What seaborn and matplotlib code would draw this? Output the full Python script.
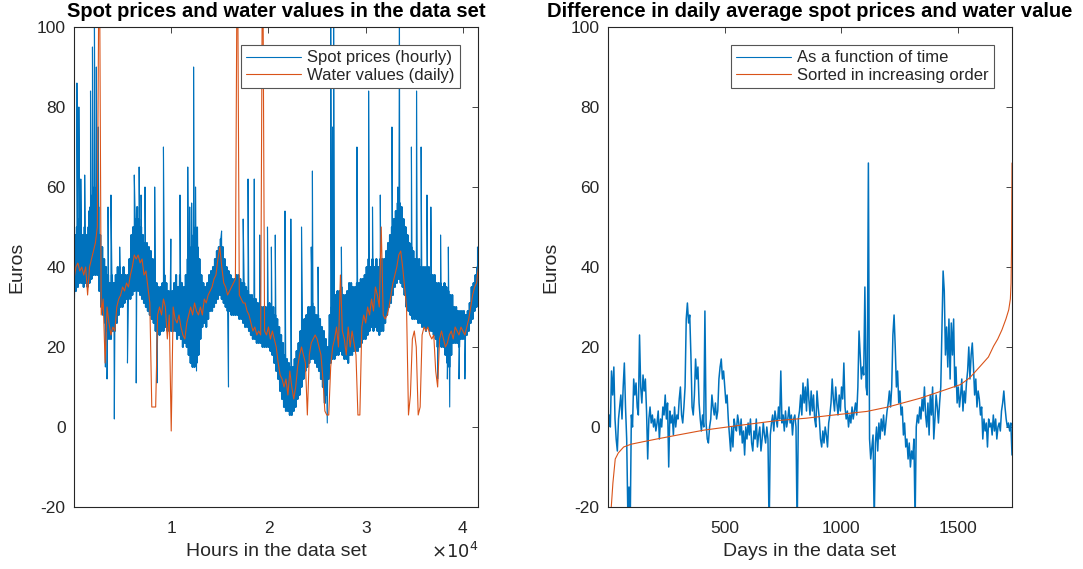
import numpy as np
import pandas as pd
import matplotlib
matplotlib.use("Agg")
import matplotlib.pyplot as plt
from matplotlib.ticker import FuncFormatter
from matplotlib.lines import Line2D
import seaborn as sns

# ---------------- data ----------------
# Left panel: hourly spot prices. The dense hourly trace is read as a band:
# lower and upper edge every 200 hours, plus the isolated spikes.
band_step_hours = 200
spot_band_low = [
    32, 34, 35, 36, 36, 35, 36, 35, 36, 37, 38, 38, 38, 34, 30, 28, 26, 24, 22, 22,
    24, 24, 26, 28, 30, 30, 31, 32, 32, 32, 33, 34, 34, 34, 33, 32, 31, 30, 29, 28,
    27, 26, 24, 24, 23, 24, 24, 25, 24, 24, 24, 24, 24, 22, 23, 22, 20, 21, 20, 18,
    16, 15, 15, 16, 18, 22, 25, 26, 25, 27, 29, 29, 30, 31, 32, 33, 32, 31, 30, 29,
    29, 28, 28, 28, 28, 27, 27, 26, 25, 25, 24, 23, 22, 22, 21, 21, 21, 20, 20, 20,
    20, 19, 18, 16, 14, 12, 9, 7, 5, 4, 4, 3, 3, 4, 5, 7, 8, 10, 12, 14,
    15, 16, 17, 17, 16, 15, 14, 12, 10, 6, 8, 12, 16, 17, 17, 18, 18, 19, 18, 17,
    17, 16, 18, 18, 19, 19, 19, 20, 21, 22, 22, 23, 24, 25, 24, 25, 24, 23, 24, 24,
    26, 28, 30, 31, 33, 35, 36, 37, 36, 35, 33, 30, 29, 28, 27, 27, 27, 26, 26, 25,
    25, 24, 25, 24, 24, 23, 22, 20, 22, 20, 20, 18, 16, 15, 18, 21, 21, 21, 20, 22,
    22, 22, 23, 24, 26, 27, 29, 30, 32,
]
spot_band_high = [
    48, 50, 52, 50, 48, 50, 48, 50, 55, 58, 60, 58, 55, 48, 45, 42, 40, 38, 36, 38,
    36, 38, 40, 40, 38, 40, 38, 38, 42, 48, 50, 52, 55, 52, 50, 48, 46, 46, 45, 44,
    42, 40, 36, 35, 35, 36, 38, 36, 34, 34, 34, 36, 38, 35, 38, 36, 35, 38, 42, 45,
    45, 48, 50, 45, 42, 38, 36, 35, 36, 38, 39, 40, 42, 44, 45, 47, 45, 42, 40, 39,
    38, 37, 37, 38, 38, 37, 36, 36, 35, 34, 33, 33, 32, 32, 31, 31, 30, 30, 30, 30,
    31, 30, 30, 28, 27, 25, 23, 21, 18, 17, 16, 15, 15, 17, 19, 21, 24, 26, 27, 28,
    30, 30, 31, 30, 28, 28, 27, 25, 24, 22, 20, 28, 30, 32, 33, 34, 34, 35, 33, 33,
    34, 36, 36, 35, 35, 36, 36, 37, 37, 38, 40, 42, 40, 42, 40, 42, 40, 42, 42, 42,
    44, 46, 48, 50, 52, 54, 56, 56, 55, 52, 50, 48, 46, 45, 44, 42, 42, 42, 40, 40,
    40, 40, 40, 38, 38, 38, 36, 36, 36, 35, 36, 35, 34, 33, 33, 30, 30, 29, 29, 29,
    29, 28, 29, 31, 35, 36, 38, 40, 42,
]
spike_hours = [300, 500, 700, 1100, 1500, 1700, 1900, 2100, 2300, 2500, 3230, 3400,
               3500, 3800, 4150, 4700, 5500, 6200, 6400, 6700, 6900, 7300, 8300, 8530,
               9200, 9960, 10900, 11700, 11900, 12100, 12300, 12500, 12600, 12700,
               15180, 15890, 17400, 17900, 18540, 19100, 19900, 20300, 20700, 21700,
               22300, 23400, 24400, 24520, 25100, 26050, 26400, 26600, 26700, 27500,
               29100, 30300, 30700, 31500, 32700, 33300, 33470, 34700, 35230, 35700,
               36300, 36700, 37400, 37700, 38400, 38500, 38640, 39600, 40200, 41500]
spike_prices = [86, 80, 62, 63, 54, 84, 95, 105, 90, 75, 15, 12,
                55, 58, 2, 45, 16, 63, 11, 65, 58, 60, 60, 11,
                70, 47, 58, 65, 55, 56, 90, 60, 14, 50,
                49, 10, 52, 62, 62, 48, 50, 45, 48, 54,
                52, 50, 45, 64, 40, 1, 105, 75, 105, 45,
                70, 84, 55, 58, 75, 60, 105, 70, 84, 70,
                58, 55, 12, 48, 12, 45, 5, 12, 12, 45]

# Left panel: daily water values, sampled every 200 hours
water_step_hours = 200
water_values = [
    37, 40, 41, 39, 40, 38, 40, 33, 40, 42, 44, 46, 50, 130, 28, 32, 16, 30, 26, 23,
    25, 24, 30, 32, 33, 35, 34, 36, 35, 38, 40, 43, 42, 43, 41, 42, 38, 39, 35, 31,
    5, 5, 5, 28, 30, 28, 32, 30, 22, 28, -1, 30, 27, 26, 28, 25, 23, 22, 26, 28,
    30, 28, 31, 29, 28, 30, 28, 32, 31, 33, 34, 35, 37, 38, 42, 45, 40, 36, 35, 33,
    34, 35, 36, 37, 130, 33, 32, 31, 31, 29, 28, 26, 24, 25, 23, 24, 23, 130, 24, 23,
    25, 22, 24, 22, 20, 16, 13, 12, 10, 12, 8, 14, 10, 7, 10, 15, 18, 20, 18, 16,
    3, 18, 21, 22, 23, 22, 20, 18, 12, 4, 3, 3, 15, 20, 22, 25, 20, 38, 24, 22,
    18, 25, 20, 24, 21, 18, 3, 3, 25, 28, 26, 30, 28, 32, 29, 35, 33, 30, 50, 28,
    27, 28, 30, 33, 36, 38, 40, 43, 44, 40, 35, 30, 3, 8, 22, 24, 20, 3, 5, 23,
    25, 24, 25, 23, 22, 23, 14, 10, 22, 24, 22, 20, 21, 23, 24, 22, 25, 24, 23, 25,
    24, 23, 25, 27, 30, 33, 35, 36, 40,
]

# Right panel: daily difference, sampled every 5 days
diff_step_days = 5
diff_values = [
    -1, 3, 0, 14, 8, 15, 2, -3, -6, 2, 5, 8, 2, 10, 16, 5, -3, -22, -15, -25,
    3, 0, 12, 8, 11, 5, 3, 23, 10, 6, 13, 9, 12, 4, -8, 2, 5, 1, 3, 0,
    2, -1, 1, 4, -3, 2, 0, 5, 3, 8, 2, 6, -10, 4, 1, 3, -2, 5, 0, 3,
    2, 7, 10, 3, 1, 5, 10, 27, 31, 26, 28, 18, 5, 3, 8, 17, 12, 15, 6, 2,
    -1, 3, 0, 29, 1, -3, -4, 0, 2, 8, 5, 3, 6, 2, 4, 12, 15, 17, 12, 14,
    10, 6, 8, 2, -2, -6, 0, -5, 2, 0, -1, 3, 1, -2, 2, -4, -1, -7, 0, -3,
    1, -2, 2, -4, -6, -1, -3, 2, -5, -2, 0, -6, -3, 1, -2, -4, 0, -3, -26, -2,
    1, 3, -1, 4, 2, 0, 5, 2, 14, 1, 3, -1, 4, 0, 2, 5, 1, 3, -2, 2,
    3, 0, -26, 2, 4, 8, 3, 11, 6, 10, 4, 12, 7, 3, 9, 4, 8, 2, 0, 9,
    5, 2, -3, -5, -1, -4, 0, -2, -5, 1, 3, 6, 12, 7, 4, 10, 6, 3, 8, 4,
    10, 7, 16, 5, 2, 4, 0, 3, 1, 5, 2, 4, 6, 3, 10, 24, 18, 12, 15, 13,
    35, 10, 8, 66, -3, -8, -5, -2, -24, -4, 0, -6, 1, -3, 2, -1, 3, -2, 1, 4,
    6, 9, 5, 10, 23, 28, 20, 10, 14, 6, 9, 3, 5, -2, 1, -5, -3, -8, -4, -10,
    -6, -8, -3, -24, 0, 3, 1, 5, 2, 7, 4, 10, 3, 0, 6, -2, 8, 3, 10, -3,
    2, 8, 5, 1, 6, 10, 25, 39, 34, 18, 25, 15, 27, 12, 26, 18, 27, 10, 15, 6,
    10, 5, 8, 12, 4, 9, 6, 11, 14, 20, 12, 18, 21, 15, 8, 12, 5, 9, 7, 3,
    5, -3, 2, -1, 1, -5, 2, 0, 1, -2, 3, -1, 2, -3, 0, 1, -1, 4, 6, 9,
    5, 2, 0, 1, -1, 1, -7,
]

# Right panel: the same differences sorted in increasing order
sorted_days = [1, 15, 22, 32, 45, 68, 100, 150, 210, 300, 410, 550, 725, 850, 953,
               1110, 1200, 1338, 1420, 1510, 1550, 1595, 1630, 1652, 1670, 1688,
               1705, 1717, 1724, 1727, 1729, 1731]
sorted_values = [-24, -20, -14, -8, -6.5, -5, -4.3, -3.7, -3, -2, -0.8, 0.3, 1.6, 2.2,
                 2.9, 3.9, 5.0, 7.2, 8.8, 10.6, 12.3, 15.2, 17.5, 20.2, 22, 24.3,
                 27, 29.3, 32, 36, 45, 66]

titles = ["Spot prices and water values in the data set",
          "Difference in daily average spot prices and water value"]
xlabels = ["Hours in the data set", "Days in the data set"]
ylabel = "Euros"
left_legend = ["Spot prices (hourly)", "Water values (daily)"]
right_legend = ["As a function of time", "Sorted in increasing order"]
left_xticks = [10000, 20000, 30000, 40000]
right_xticks = [500, 1000, 1500]
yticks = [-20, 0, 20, 40, 60, 80, 100]

# ---------------- style ----------------
sns.set_style("white")
plt.rcParams["font.family"] = ["Liberation Sans", "DejaVu Sans"]
plt.rcParams["axes.unicode_minus"] = False
BLUE = "#0072BD"
ORANGE = "#D95319"
AXC = "#262626"

# hourly trace: band edges (low at h, high half a step later) merged with spikes
n_band = min(len(spot_band_low), len(spot_band_high))
band_h = np.arange(n_band) * band_step_hours
band_hours = np.concatenate([band_h, band_h + band_step_hours / 2])
band_prices = np.concatenate([spot_band_low[:n_band], spot_band_high[:n_band]])
bo = np.argsort(band_hours, kind="stable")
band_df = pd.DataFrame({"hour": band_hours[bo], "price": band_prices[bo]})

trace_hours = np.concatenate([band_hours, spike_hours])
trace_prices = np.concatenate([band_prices, spike_prices])
order = np.argsort(trace_hours, kind="stable")
spot_df = pd.DataFrame({"hour": trace_hours[order], "price": trace_prices[order]})
water_df = pd.DataFrame({"hour": np.arange(len(water_values)) * water_step_hours,
                         "value": water_values})
diff_df = pd.DataFrame({"day": 1 + np.arange(len(diff_values)) * diff_step_days,
                        "diff": diff_values})
sorted_df = pd.DataFrame({"day": sorted_days, "diff": sorted_values})

fig = plt.figure(figsize=(10.83, 5.69), dpi=100)
W, H = 1083, 569
ax1 = fig.add_axes([74 / W, 1 - 507 / H, (478 - 74) / W, 480 / H])
ax2 = fig.add_axes([608 / W, 1 - 507 / H, (1012 - 608) / W, 480 / H])

lw = 0.8
# dense body of the hourly trace, then the full trace (with spikes) as a thin line
sns.lineplot(data=band_df, x="hour", y="price", ax=ax1, color=BLUE, linewidth=1.5,
             estimator=None, sort=False)
sns.lineplot(data=spot_df, x="hour", y="price", ax=ax1, color=BLUE, linewidth=0.8,
             estimator=None, sort=False)
sns.lineplot(data=water_df, x="hour", y="value", ax=ax1, color=ORANGE, linewidth=lw,
             estimator=None, sort=False)
sns.lineplot(data=diff_df, x="day", y="diff", ax=ax2, color=BLUE, linewidth=1.1,
             estimator=None, sort=False)
sns.lineplot(data=sorted_df, x="day", y="diff", ax=ax2, color=ORANGE, linewidth=lw,
             estimator=None, sort=False)

for ax, title, xl in [(ax1, titles[0], xlabels[0]), (ax2, titles[1], xlabels[1])]:
    ax.set_ylim(-20, 100)
    ax.set_yticks(yticks)
    ax.set_title(title, fontsize=14.5, fontweight="bold", color="black", pad=7)
    ax.set_xlabel(xl, fontsize=14, color=AXC, labelpad=5)
    ax.set_ylabel(ylabel, fontsize=14, color=AXC, labelpad=8)
    ax.tick_params(direction="in", top=True, right=True, length=4, width=0.6,
                   colors=AXC, labelsize=12.5, pad=6)
    ax.tick_params(axis="x", pad=10)
    for s in ax.spines.values():
        s.set_color(AXC)
        s.set_linewidth(0.8)
        s.set_visible(True)

ax1.set_xlim(1, 41550)
ax1.set_xticks(left_xticks)
ax1.xaxis.set_major_formatter(FuncFormatter(lambda v, p: f"{v / 1e4:g}"))
ax1.text(1.0, -0.072, r"$\times 10^4$", transform=ax1.transAxes, ha="right",
         va="top", fontsize=13, color=AXC)
ax2.set_xlim(1, 1731)
ax2.set_xticks(right_xticks)

def add_legend(ax, labels):
    handles = [Line2D([], [], color=BLUE, linewidth=lw),
               Line2D([], [], color=ORANGE, linewidth=lw)]
    leg = ax.legend(handles, labels, loc="upper right", fontsize=12,
                    frameon=True, fancybox=False, framealpha=1,
                    edgecolor="#555555", borderaxespad=1.1, handlelength=3.3,
                    handletextpad=0.35, borderpad=0.3, labelspacing=0.15)
    leg.get_frame().set_linewidth(0.8)
    for t in leg.get_texts():
        t.set_color(AXC)

add_legend(ax1, left_legend)
add_legend(ax2, right_legend)

fig.savefig("out.png", dpi=100)
